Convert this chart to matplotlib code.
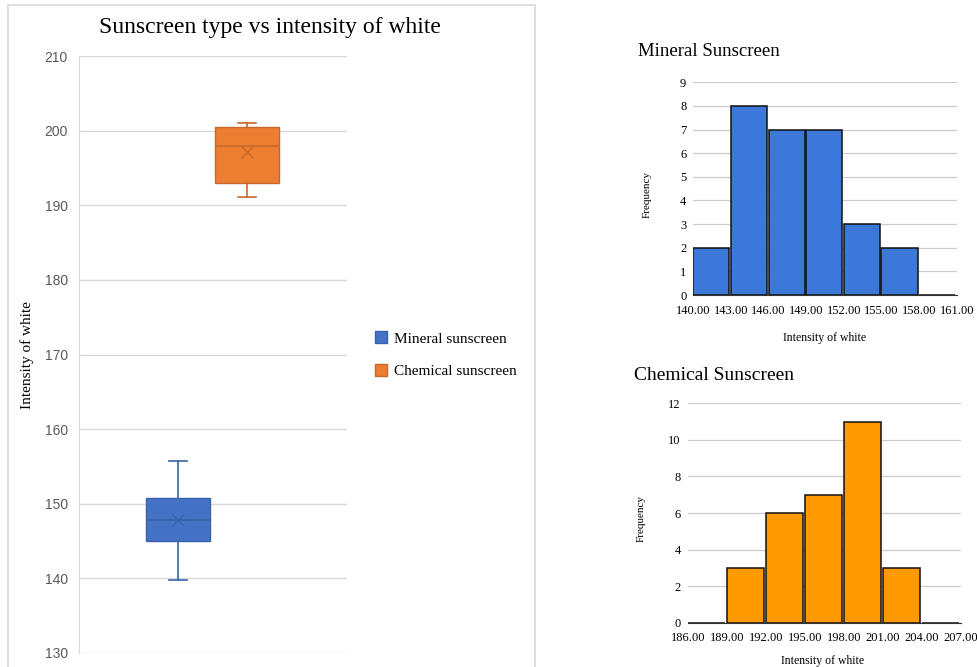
import matplotlib
matplotlib.use("Agg")
import matplotlib.pyplot as plt
from matplotlib.patches import Rectangle
from matplotlib.lines import Line2D

# ---- data ----
box_labels = ["Mineral sunscreen", "Chemical sunscreen"]
box_whislo = [139.8, 191.1]
box_q1 = [145.0, 193.0]
box_med = [147.8, 197.9]
box_mean = [147.8, 197.2]
box_q3 = [150.8, 200.5]
box_whishi = [155.7, 201.0]

mineral_edges = [140, 143, 146, 149, 152, 155, 158, 161]
mineral_counts = [2, 8, 7, 7, 3, 2, 0]

chemical_edges = [186, 189, 192, 195, 198, 201, 204, 207]
chemical_counts = [0, 3, 6, 7, 11, 3, 0]

BOX_FILL = ["#4472C4", "#ED7D31"]
BOX_LINE = ["#3A62AA", "#C8692A"]
SERIF = "Liberation Serif"
SANS = "Liberation Sans"

fig = plt.figure(figsize=(9.77, 6.67), dpi=100)

# light frame round the box chart
fig.patches.append(Rectangle((8 / 977, -0.05), 527 / 977, 1.05 - 5 / 667,
                             transform=fig.transFigure, fill=False,
                             edgecolor="#D9D9D9", linewidth=1.2))

########################################
# box plot
########################################
ax = fig.add_axes([79 / 977, 1 - 653 / 667, 268 / 977, 597 / 667])
stats = []
for i in range(len(box_labels)):
    stats.append(dict(label=box_labels[i], whislo=box_whislo[i], q1=box_q1[i],
                      med=box_med[i], q3=box_q3[i], whishi=box_whishi[i],
                      mean=box_mean[i], fliers=[]))

for i, s in enumerate(stats):
    ax.bxp([s], positions=[i + 1], widths=0.93, showmeans=True,
           patch_artist=True, showfliers=False,
           boxprops=dict(facecolor=BOX_FILL[i], edgecolor=BOX_LINE[i], linewidth=1),
           medianprops=dict(color=BOX_LINE[i], linewidth=1.2),
           whiskerprops=dict(color=BOX_LINE[i], linewidth=1.2),
           capprops=dict(color=BOX_LINE[i], linewidth=1.2),
           capwidths=0.27,
           meanprops=dict(marker="x", markeredgecolor=BOX_LINE[i],
                          markersize=8, markeredgewidth=1))

ax.set_xlim(-0.435, 3.449)
ax.set_ylim(130, 210)
ax.set_yticks(range(130, 211, 10))
ax.set_xticks([])
ax.grid(axis="y", color="#D9D9D9", linewidth=1)
ax.set_axisbelow(True)
for side in ["top", "right", "bottom"]:
    ax.spines[side].set_visible(False)
ax.spines["left"].set_color("#D9D9D9")
ax.tick_params(axis="y", length=0, pad=8, labelsize=10, labelcolor="#595959")
for t in ax.get_yticklabels():
    t.set_fontfamily(SANS)

fig.text(270 / 977, 1 - 28 / 667, "Sunscreen type vs intensity of white",
         ha="center", va="center", fontsize=17, family=SERIF)
fig.text(27 / 977, 1 - 355 / 667, "Intensity of white", rotation=90,
         ha="center", va="center", fontsize=11, family=SERIF)

handles = [Line2D([], [], linestyle="none", marker="s", markersize=9,
                  markerfacecolor=BOX_FILL[i], markeredgecolor=BOX_LINE[i])
           for i in range(len(box_labels))]
fig.legend(handles, box_labels, loc="center left",
           bbox_to_anchor=(360 / 977, 1 - 355 / 667), frameon=False,
           prop=dict(family=SERIF, size=11), handletextpad=0.35,
           labelspacing=1.2, handlelength=1.0)


########################################
# histograms
########################################
def draw_hist(rect, edges, counts, color, ymax, ystep):
    h = fig.add_axes(rect)
    lefts = edges[:-1]
    h.bar(lefts, counts, width=2.88, align="edge", color=color,
          edgecolor="#111111", linewidth=1.1, zorder=3)
    h.set_xlim(edges[0], edges[-1])
    h.set_ylim(0, ymax)
    h.set_xticks(edges)
    h.set_xticklabels([f"{e:.2f}" for e in edges])
    h.set_yticks(range(0, ymax + 1, ystep))
    h.grid(axis="y", color="#CCCCCC", linewidth=0.9)
    h.set_axisbelow(True)
    for side in ["top", "right", "left"]:
        h.spines[side].set_visible(False)
    h.spines["bottom"].set_color("#333333")
    h.tick_params(axis="x", length=0, labelsize=9, pad=7)
    h.tick_params(axis="y", length=0, labelsize=9, pad=5)
    for t in h.get_xticklabels() + h.get_yticklabels():
        t.set_fontfamily(SERIF)
    return h


draw_hist([693.3 / 977, 1 - 295 / 667, 263.4 / 977, 212.7 / 667],
          mineral_edges, mineral_counts, "#3C78D8", 9, 1)
draw_hist([687.7 / 977, 1 - 622.7 / 667, 273 / 977, 219.4 / 667],
          chemical_edges, chemical_counts, "#FF9900", 12, 2)

fig.text(638 / 977, 1 - 52 / 667, "Mineral Sunscreen", ha="left", va="center",
         fontsize=13.5, family=SERIF)
fig.text(647 / 977, 1 - 195 / 667, "Frequency", rotation=90, ha="center",
         va="center", fontsize=8, family=SERIF)
fig.text(825 / 977, 1 - 338 / 667, "Intensity of white", ha="center",
         va="center", fontsize=8.5, family=SERIF)

fig.text(634 / 977, 1 - 376 / 667, "Chemical Sunscreen", ha="left", va="center",
         fontsize=14, family=SERIF)
fig.text(641 / 977, 1 - 518 / 667, "Frequency", rotation=90, ha="center",
         va="center", fontsize=8, family=SERIF)
fig.text(823 / 977, 1 - 661 / 667, "Intensity of white", ha="center",
         va="center", fontsize=8.5, family=SERIF)

fig.savefig("out.png", dpi=100)
